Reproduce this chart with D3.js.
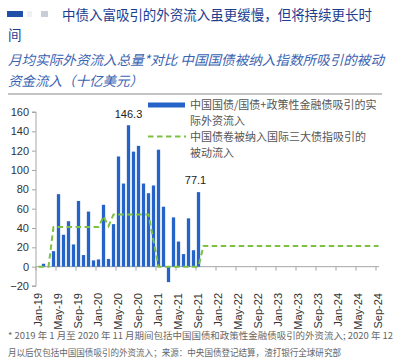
<!DOCTYPE html>
<html><head><meta charset="utf-8">
<script src="https://cdn.jsdelivr.net/npm/d3@7"></script>
<style>
html,body{margin:0;padding:0;background:#fff;}
svg{display:block;}
</style></head>
<body>
<svg id="chart" width="400" height="363"></svg>
<script>
// ---------- data ----------
const months = [
 "Jan-19","Feb-19","Mar-19","Apr-19","May-19","Jun-19","Jul-19","Aug-19","Sep-19","Oct-19","Nov-19","Dec-19",
 "Jan-20","Feb-20","Mar-20","Apr-20","May-20","Jun-20","Jul-20","Aug-20","Sep-20","Oct-20","Nov-20","Dec-20",
 "Jan-21","Feb-21","Mar-21","Apr-21","May-21","Jun-21","Jul-21","Aug-21","Sep-21","Oct-21","Nov-21","Dec-21",
 "Jan-22","Feb-22","Mar-22","Apr-22","May-22","Jun-22","Jul-22","Aug-22","Sep-22","Oct-22","Nov-22","Dec-22",
 "Jan-23","Feb-23","Mar-23","Apr-23","May-23","Jun-23","Jul-23","Aug-23","Sep-23","Oct-23","Nov-23","Dec-23",
 "Jan-24","Feb-24","Mar-24","Apr-24","May-24","Jun-24","Jul-24","Aug-24","Sep-24"
];
// actual foreign inflows (USD bn), Jan-19 .. Sep-21
const actualInflows = [
 0, 3, 0, 16, 75, 33, 47, 23, 68, 12, 57, 6.5,
 7.5, 64, 8, 44, 114, 86, 146.3, 119, 125, 86, 76, 84,
 121, 62, -16, 51, 26, 13, 50, 17, 77.1
];
// passive inflows from index inclusion (USD bn), Jan-19 .. Sep-24
const passiveInflows = [
 0, 0, 0, 41, 41, 41, 41, 41, 41, 41, 41, 41,
 41, 52, 42, 54, 54, 54, 54, 54, 54, 54, 54, 27,
 0, 0, 0, 0, 0, 0, 0, 0, 0, 21.5, 21.5, 21.5,
 21.5, 21.5, 21.5, 21.5, 21.5, 21.5, 21.5, 21.5, 21.5, 21.5, 21.5, 21.5,
 21.5, 21.5, 21.5, 21.5, 21.5, 21.5, 21.5, 21.5, 21.5, 21.5, 21.5, 21.5,
 21.5, 21.5, 21.5, 21.5, 21.5, 21.5, 21.5, 21.5, 21.5
];
const yTicks = [-20, 0, 20, 40, 60, 80, 100, 120, 140, 160];
const xTickLabels = months.filter((m, i) => i % 4 === 0);
const annotations = [{month: "Jul-20", value: 146.3, text: "146.3"}, {month: "Sep-21", value: 77.1, text: "77.1"}];
const titleLines = ["中债入富吸引的外资流入虽更缓慢，但将持续更长时", "间"];
const subtitleLines = ["月均实际外资流入总量*对比 中国国债被纳入指数所吸引的被动", "资金流入（十亿美元）"];
const legendActual = ["中国国债/国债+政策性金融债吸引的实", "际外资流入"];
const legendPassive = ["中国债卷被纳入国际三大债指吸引的", "被动流入"];
const footnoteLines = ["* 2019 年 1 月至 2020 年 11 月期间包括中国国债和政策性金融债吸引的外资流入; 2020 年 12",
                       "月以后仅包括中国国债吸引的外资流入；来源：中央国债登记结算，渣打银行全球研究部"];

// ---------- drawing ----------
const svg = d3.select("#chart");
const CJK = "'Noto Sans CJK SC','Noto Sans',sans-serif";
const LAT = "'Liberation Sans',Arial,'Noto Sans CJK SC',sans-serif";
const blue = "#2563c8", green = "#7cc142", axisCol = "#a6a6a6";

// header icon
svg.append("rect").attr("x", 7).attr("y", 11).attr("width", 16).attr("height", 6).attr("fill", "#1f4fa6");
svg.append("rect").attr("x", 27).attr("y", 11).attr("width", 5).attr("height", 6).attr("fill", "#eef0f5");
svg.append("rect").attr("x", 41).attr("y", 11).attr("width", 7).attr("height", 6).attr("fill", "#c9cdd8");

// title
svg.append("text").attr("x", 62).attr("y", 20).text(titleLines[0])
  .attr("font-family", CJK).attr("font-size", 13.5).attr("fill", "#1d3d8f")
  .attr("textLength", 310).attr("lengthAdjust", "spacingAndGlyphs");
svg.append("text").attr("x", 8).attr("y", 40).text(titleLines[1])
  .attr("font-family", CJK).attr("font-size", 13.5).attr("fill", "#1d3d8f");

// subtitle
subtitleLines.forEach((t, i) => {
  const el = svg.append("text").attr("x", 8).attr("y", 65 + i * 21).text(t)
    .attr("font-family", CJK).attr("font-size", 13.5).attr("font-style", "italic").attr("fill", "#3b63b3");
  if (i === 0) el.attr("textLength", 376).attr("lengthAdjust", "spacingAndGlyphs");
});

// top rule
svg.append("line").attr("x1", 8).attr("x2", 382).attr("y1", 94).attr("y2", 94)
  .attr("stroke", "#b0b0b0").attr("stroke-width", 1.5);

// scales
const x = d3.scaleBand().domain(months).range([36, 381]).paddingInner(0.34).paddingOuter(0.17);
const xc = m => x(m) + x.bandwidth() / 2;
const step = x.step();
const y = d3.scaleLinear().domain([-20, 160]).range([286, 112]);

// y axis
const yAxis = d3.axisLeft(y).tickValues(yTicks).tickSize(4).tickPadding(3);
const gy = svg.append("g").attr("transform", "translate(36,0)").call(yAxis);
gy.select(".domain").attr("stroke", axisCol).attr("d", `M-4,${y(-20)}H0V${y(160)}H-4`);
gy.selectAll(".tick line").attr("stroke", axisCol);
gy.selectAll(".tick text").attr("font-family", LAT).attr("font-size", 11).attr("fill", "#333");

// x axis line at zero with ticks at category boundaries
const xAxisG = svg.append("g");
xAxisG.append("line").attr("x1", 36).attr("x2", 379).attr("y1", y(0)).attr("y2", y(0))
  .attr("stroke", axisCol).attr("stroke-width", 1);
xAxisG.selectAll("line.tk").data(xTickLabels).join("line").attr("class", "tk")
  .attr("x1", d => xc(d) - step / 2).attr("x2", d => xc(d) - step / 2)
  .attr("y1", y(0)).attr("y2", y(0) + 4).attr("stroke", axisCol);

// x labels (rotated, at bottom)
svg.append("g").selectAll("text").data(xTickLabels).join("text")
  .attr("transform", d => `translate(${xc(d)},293) rotate(-90)`)
  .attr("dy", "0.35em").attr("text-anchor", "end")
  .attr("font-family", LAT).attr("font-size", 11).attr("fill", "#333")
  .text(d => d);

// bars
svg.append("g").selectAll("rect").data(actualInflows.map((v, i) => ({m: months[i], v})).filter(d => d.v !== 0))
  .join("rect")
  .attr("x", d => x(d.m)).attr("width", x.bandwidth())
  .attr("y", d => y(Math.max(0, d.v))).attr("height", d => Math.abs(y(d.v) - y(0)))
  .attr("fill", blue);

// passive line
const line = d3.line().x((d, i) => xc(months[i])).y(d => y(d));
svg.append("path").datum(passiveInflows).attr("d", line)
  .attr("fill", "none").attr("stroke", green).attr("stroke-width", 2)
  .attr("stroke-dasharray", "5.5,3.5");

// annotations
svg.append("g").selectAll("text").data(annotations).join("text")
  .attr("x", d => xc(d.month)).attr("y", d => d.month === "Jul-20" ? 118 : 184)
  .attr("dx", d => d.month === "Sep-21" ? -3 : 0)
  .attr("text-anchor", "middle").attr("font-family", LAT).attr("font-size", 11).attr("fill", "#222")
  .text(d => d.text);

// legend
svg.append("rect").attr("x", 148).attr("y", 102.5).attr("width", 37).attr("height", 5).attr("fill", blue);
svg.append("line").attr("x1", 148).attr("x2", 186).attr("y1", 136.5).attr("y2", 136.5)
  .attr("stroke", green).attr("stroke-width", 2).attr("stroke-dasharray", "5.5,3.5");
const legText = (lines, y0) => lines.forEach((t, i) => {
  svg.append("text").attr("x", 190).attr("y", y0 + i * 16).text(t)
    .attr("font-family", CJK).attr("font-size", 11).attr("fill", "#555");
});
legText(legendActual, 109);
legText(legendPassive, 140.5);

// footnote
footnoteLines.forEach((t, i) => {
  const el = svg.append("text").attr("x", 8).attr("y", 339 + i * 17).text(t)
    .attr("font-family", CJK).attr("font-size", 9).attr("fill", "#666");
  el.attr("textLength", i === 0 ? 385 : 333).attr("lengthAdjust", "spacingAndGlyphs");
});
</script>
</body></html>
